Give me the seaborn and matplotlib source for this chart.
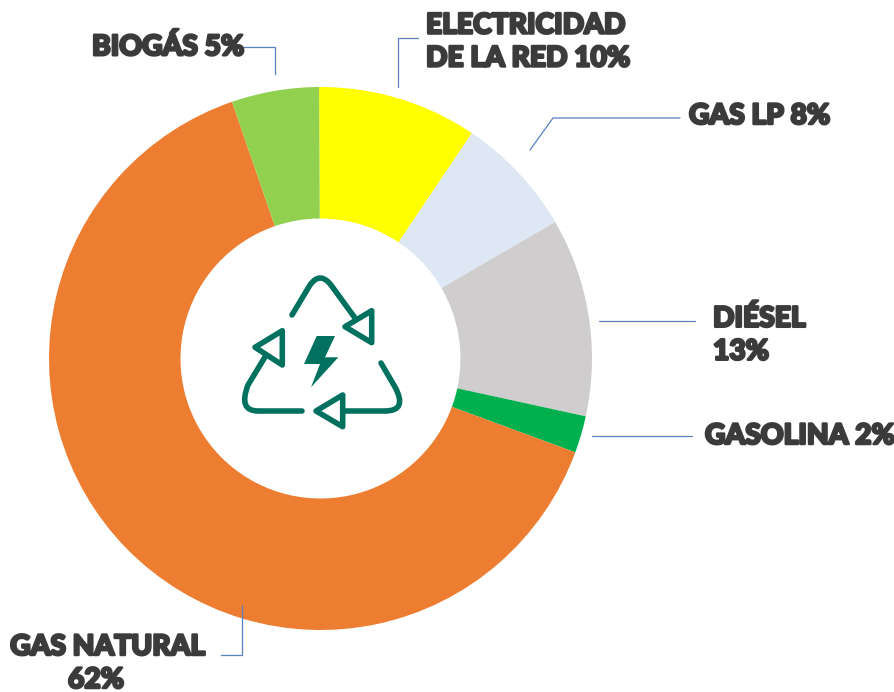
import matplotlib
matplotlib.use("Agg")
import matplotlib.pyplot as plt
import matplotlib.patheffects as pe
from matplotlib.path import Path
from matplotlib.patches import PathPatch, Polygon
import seaborn as sns

# clockwise from the top
fuentes = ["Electricidad de la red", "Gas LP", "Diésel", "Gasolina", "Gas natural", "Biogás"]
shares = [9.5, 7.2, 11.8, 2.2, 64.1, 5.2]
colores = ["#FFFF00", "#DEE8F4", "#CFCDCD", "#00B04F", "#ED7D31", "#92D050"]

etiquetas = ["BIOGÁS 5%", "ELECTRICIDAD\nDE LA RED 10%", "GAS LP 8%", "DIÉSEL\n13%", "GASOLINA 2%", "GAS NATURAL", "62%"]
etiqueta_pos = [(92, 47, "left"), (426, 42, "left"), (689, 116, "left"), (713, 335, "left"), (705, 436, "left"),
                (108, 647, "center"), (96, 680, "center")]
guias = [
    [(243, 47), (275, 47), (275, 74)],
    [(398, 87), (398, 38), (418, 38)],
    [(530, 150), (553, 118), (680, 118)],
    [(599, 321), (695, 321)],
    [(592, 436), (692, 436)],
    [(242, 605), (242, 655), (221, 655)],
]

VERDE = "#00705F"
TEXTO = "#3B3B3B"

sns.set_theme(style="white")
plt.rcParams["font.family"] = ["Lato", "Open Sans", "DejaVu Sans"]

fig = plt.figure(figsize=(8.95, 6.92), dpi=100)
ax = fig.add_axes([0, 0, 1, 1])

# eje y invertido: counterclock=True se ve en sentido horario
ax.pie(shares, colors=colores, startangle=-90.3, counterclock=True, center=(320.5, 358.5), radius=271.5,
       wedgeprops=dict(width=131.5, edgecolor="none"), frame=True)
ax.set_xlim(0, 895)
ax.set_ylim(692, 0)
ax.set_aspect("equal")
ax.axis("off")

# lineas guia
for g in guias:
    ax.plot([p[0] for p in g], [p[1] for p in g], color="#5B7FBE", lw=0.9, solid_joinstyle="miter")

# etiquetas
for txt, (x, y, ha) in zip(etiquetas, etiqueta_pos):
    t = ax.text(x, y, txt, fontsize=20.3, fontweight="black", color=TEXTO, ha=ha, va="center", linespacing=1.33)
    t.set_path_effects([pe.withStroke(linewidth=1.8, foreground=TEXTO)])

# icono de reciclaje
M, L, C = Path.MOVETO, Path.LINETO, Path.CURVE3
trazos = [
    ([(292, 315), (310, 285), (320, 271), (331, 285), (355, 318)], [M, L, C, C, L]),
    ([(265, 357), (248, 385), (238, 411), (258, 411), (302, 411)], [M, L, C, C, L]),
    ([(343, 411), (385, 411), (408, 411), (395, 387), (381, 363)], [M, L, C, C, L]),
]
for verts, codes in trazos:
    ax.add_patch(PathPatch(Path(verts, codes), fill=False, edgecolor=VERDE, lw=4, capstyle="round"))
flechas = [
    [(371.7, 310.7), (345, 326.7), (371.7, 342.7)],
    [(282.3, 330.7), (255, 347.3), (282.3, 365)],
    [(342.7, 395), (316, 411), (342.7, 426.7)],
]
for f in flechas:
    ax.add_patch(Polygon(f, closed=True, facecolor="white", edgecolor=VERDE, lw=4, joinstyle="round"))
rayo = [(316.7, 336), (335, 336), (325, 357.3), (338.3, 357.3), (311, 387.3), (320, 364), (304, 364)]
ax.add_patch(Polygon(rayo, closed=True, facecolor=VERDE, edgecolor="none"))

fig.savefig("out.png", dpi=100, facecolor="white")
